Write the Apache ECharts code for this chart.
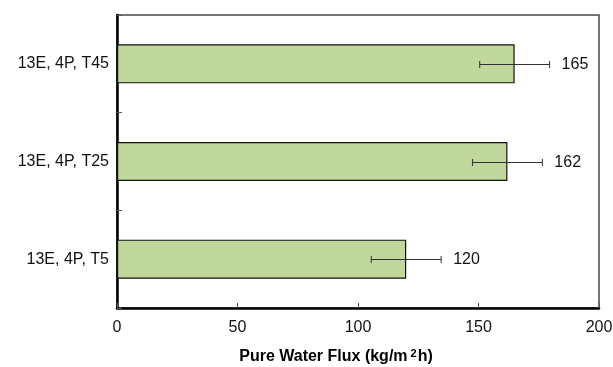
<!DOCTYPE html>
<html>
<head>
<meta charset="utf-8">
<script src="https://cdn.jsdelivr.net/npm/echarts@6/dist/echarts.min.js"></script>
<style>
  html, body { margin: 0; padding: 0; background: #fff; }
  #chart { width: 613px; height: 367px; }
</style>
</head>
<body>
<div id="chart"></div>
<script>
// Membrane samples, listed bottom to top
const categories = ['13E, 4P, T5', '13E, 4P, T25', '13E, 4P, T45'];
// Pure water flux (kg/m2h)
const fluxValues = [120, 162, 165];
// Standard deviation for the error bars
const fluxErrors = [14.5, 14.5, 14.5];
// x-axis range
const xMin = 0, xMax = 200, xStep = 50;

const FONT = '"Liberation Sans", Arial, sans-serif';

const errorData = categories.map((c, i) => [i, fluxValues[i], fluxErrors[i]]);

const chart = echarts.init(document.getElementById('chart'), null, { renderer: 'canvas' });

chart.setOption({
  animation: false,
  backgroundColor: '#ffffff',
  grid: {
    left: 117, right: 14, top: 15, bottom: 59,
    outerBoundsMode: 'none',
    containLabel: false,
    show: true, borderColor: '#4a4a4a', borderWidth: 1.5, backgroundColor: 'transparent'
  },
  xAxis: {
    type: 'value',
    min: xMin, max: xMax, interval: xStep,
    name: '{t|Pure Water Flux (kg/m}{s|2}{t|h)}',
    nameLocation: 'middle',
    nameGap: 40,
    nameTextStyle: {
      padding: [0, 44, 0, 0],
      rich: {
        t: { fontFamily: FONT, fontSize: 16, fontWeight: 'bold', color: '#000' },
        s: { fontFamily: FONT, fontSize: 11, fontWeight: 'bold', color: '#000', padding: [0, 1, 7, 3] }
      }
    },
    axisLine: { show: true, onZero: false, lineStyle: { color: '#000', width: 2.5 } },
    axisTick: { show: true, inside: true, length: 5, lineStyle: { color: '#555', width: 1 } },
    axisLabel: { fontFamily: FONT, fontSize: 16, color: '#111', margin: 12 },
    splitLine: { show: false }
  },
  yAxis: {
    type: 'category',
    data: categories,
    axisLine: { show: true, lineStyle: { color: '#000', width: 2.5 } },
    axisTick: { show: true, inside: true, length: 5, alignWithLabel: false, lineStyle: { color: '#555', width: 1 } },
    axisLabel: { fontFamily: FONT, fontSize: 16, color: '#111', margin: 8 },
    splitLine: { show: false }
  },
  series: [
    {
      type: 'bar',
      data: fluxValues,
      barWidth: '40%',
      itemStyle: { color: '#c0d89b', borderColor: '#111', borderWidth: 1.2 },
      z: 2
    },
    {
      type: 'custom',
      data: errorData,
      z: 5,
      renderItem: function (params, api) {
        const cat = api.value(0);
        const v = api.value(1);
        const e = api.value(2);
        const lo = api.coord([v - e, cat]);
        const hi = api.coord([v + e, cat]);
        const y = Math.round(lo[1]) + 0.5;
        const cap = 3.5;
        const ls = { stroke: '#333', lineWidth: 1 };
        return {
          type: 'group',
          children: [
            { type: 'line', shape: { x1: lo[0], y1: y, x2: hi[0], y2: y }, style: ls },
            { type: 'line', shape: { x1: lo[0], y1: y - cap, x2: lo[0], y2: y + cap }, style: ls },
            { type: 'line', shape: { x1: hi[0], y1: y - cap, x2: hi[0], y2: y + cap }, style: ls },
            {
              type: 'text',
              style: {
                x: hi[0] + 12, y: y,
                text: String(v),
                fill: '#111',
                font: '16px ' + FONT,
                verticalAlign: 'middle',
                align: 'left'
              }
            }
          ]
        };
      }
    }
  ]
});
</script>
</body>
</html>
